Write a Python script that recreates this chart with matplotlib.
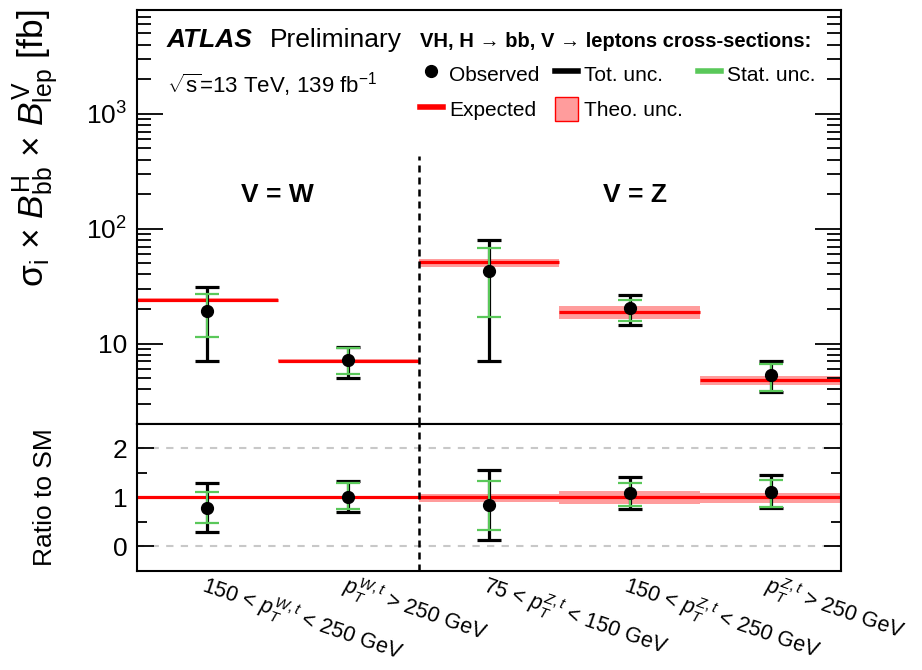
import numpy as np
import matplotlib
matplotlib.use("Agg")
import matplotlib.pyplot as plt
from matplotlib.lines import Line2D
from matplotlib.patches import Patch
from matplotlib.ticker import FixedLocator, FixedFormatter, NullFormatter

plt.rcParams['font.family'] = ['Liberation Sans', 'DejaVu Sans']
plt.rcParams['mathtext.fontset'] = 'custom'
plt.rcParams['mathtext.rm'] = 'Liberation Sans'
plt.rcParams['mathtext.it'] = 'Liberation Sans:italic'
plt.rcParams['mathtext.bf'] = 'Liberation Sans:bold'

# STXS bins: W (150-250, >250), Z (75-150, 150-250, >250)
bin_labels = [r'150 < $p_T^{W,t}$ < 250 GeV',
              r'$p_T^{W,t}$ > 250 GeV',
              r'75 < $p_T^{Z,t}$ < 150 GeV',
              r'150 < $p_T^{Z,t}$ < 250 GeV',
              r'$p_T^{Z,t}$ > 250 GeV']

# cross-sections [fb]
observed = np.array([19.1, 7.2, 42.6, 20.4, 5.35])
tot_hi = np.array([31.3, 9.4, 79.0, 26.7, 7.0])
tot_lo = np.array([7.07, 5.03, 7.0, 14.4, 3.78])
stat_hi = np.array([26.8, 9.2, 68.0, 24.2, 6.6])
stat_lo = np.array([11.4, 5.4, 17.2, 15.6, 3.9])

expected = np.array([24.2, 7.07, 50.9, 18.7, 4.83])
theo_hi = np.array([24.9, 7.28, 55.0, 21.1, 5.27])
theo_lo = np.array([23.5, 6.86, 46.5, 16.4, 4.33])

RED = '#ff0000'
PINK = '#ff9c9c'
GREEN = '#5ac85a'

edges = np.arange(len(observed) + 1)
centers = edges[:-1] + 0.5

fig = plt.figure(figsize=(9.22, 6.70), dpi=100)
ax = fig.add_axes([0.1486, 0.3672, 0.7636, 0.6179])
rax = fig.add_axes([0.1486, 0.1478, 0.7636, 0.2194], sharex=ax)


def draw_panel(a, obs, t_lo, t_hi, s_lo, s_hi, exp, th_lo, th_hi, steps=True):
    a.bar(centers, th_hi - th_lo, bottom=th_lo, width=1.0, color=PINK,
          linewidth=0, zorder=1)
    if steps:
        a.hlines(exp, edges[:-1], edges[1:], color=RED, lw=2.3, zorder=2)
    else:
        a.axhline(1.0, color=RED, lw=2.3, zorder=2)
    a.errorbar(centers, obs, yerr=[obs - t_lo, t_hi - obs], fmt='none',
               ecolor='k', elinewidth=2.3, capsize=8.5, capthick=2.3, zorder=3)
    a.errorbar(centers, obs, yerr=[obs - s_lo, s_hi - obs], fmt='none',
               ecolor=GREEN, elinewidth=1.5, capsize=8.5, capthick=1.6, zorder=4)
    a.plot(centers, obs, 'o', color='k', ms=8.5, zorder=5)


draw_panel(ax, observed, tot_lo, tot_hi, stat_lo, stat_hi,
           expected, theo_lo, theo_hi)

# ratio to the SM expectation
draw_panel(rax, observed / expected, tot_lo / expected, tot_hi / expected,
           stat_lo / expected, stat_hi / expected, np.ones(5),
           theo_lo / expected, theo_hi / expected, steps=False)

# W / Z separator
ax.vlines(2, 2, 430, color='k', lw=1.8, linestyles=(0, (2.8, 2.0)), zorder=6)
rax.axvline(2, color='k', lw=1.8, linestyle=(0, (2.8, 2.0)), zorder=6)
for yv in [0, 2]:
    rax.axhline(yv, color='#c8c8c8', lw=1.5, linestyle=(0, (3.5, 3.5)), zorder=0)

ax.set_yscale('log')
ax.set_ylim(2, 8000)
ax.set_xlim(0, 5)
ax.yaxis.set_major_locator(FixedLocator([10, 100, 1000]))
ax.yaxis.set_major_formatter(FixedFormatter(['10', r'$10^2$', r'$10^3$']))
ax.yaxis.set_minor_formatter(NullFormatter())
ax.tick_params(axis='y', which='major', direction='in', length=19, width=1.3,
               right=True, labelsize=19, pad=7)
ax.tick_params(axis='y', which='minor', direction='in', length=10, width=1.3,
               right=True)
ax.tick_params(axis='x', which='both', length=0, labelbottom=False)

rax.set_ylim(-0.5, 2.5)
rax.yaxis.set_major_locator(FixedLocator([0, 1, 2]))
rax.yaxis.set_minor_locator(FixedLocator([0.5, 1.5]))
rax.tick_params(axis='y', which='major', direction='in', length=12, width=1.3,
                right=True, labelsize=19, pad=7)
rax.tick_params(axis='y', which='minor', direction='in', length=7, width=1.3,
                right=True)
rax.set_xticks(centers)
rax.set_xticklabels(bin_labels, rotation=-19, ha='left', va='top',
                    rotation_mode='anchor', fontsize=15.5)
rax.tick_params(axis='x', length=0, pad=0)

for a in (ax, rax):
    for sp in a.spines.values():
        sp.set_linewidth(1.5)

ax.set_ylabel(r'σ$_{\mathrm{i}}$ × $B^{\mathrm{H}}_{\mathrm{bb}}$ × '
              r'$B^{\mathrm{V}}_{\mathrm{lep}}$ [fb]', fontsize=25.5,
              loc='top')
ax.yaxis.set_label_coords(-0.107, 1.0)
rax.set_ylabel('Ratio to SM', fontsize=19)
rax.yaxis.set_label_coords(-0.114, 0.5)

ax.text(0.0426, 0.9106, 'ATLAS', transform=ax.transAxes, fontsize=19,
        fontweight='bold', fontstyle='italic', va='baseline')
ax.text(0.189, 0.9106, 'Preliminary', transform=ax.transAxes, fontsize=19,
        va='baseline')
ax.text(0.0426, 0.7995, r'$\sqrt{\mathrm{s}}$=13 TeV, 139 fb$^{-1}$',
        transform=ax.transAxes, fontsize=16, va='baseline')

xt = ax.get_xaxis_transform()
ax.text(1.0, 0.553, 'V = W', transform=xt, fontsize=19, fontweight='bold',
        ha='center', va='center')
ax.text(3.54, 0.553, 'V = Z', transform=xt, fontsize=19, fontweight='bold',
        ha='center', va='center')

handles = [Line2D([], [], marker='o', color='k', ls='none', ms=8.5),
           Line2D([], [], color=RED, lw=4),
           Line2D([], [], color='k', lw=4),
           Patch(facecolor=PINK, edgecolor=RED, lw=1),
           Line2D([], [], color=GREEN, lw=4)]
labels = ['Observed', 'Expected', 'Tot. unc.', 'Theo. unc.', 'Stat. unc.']
ax.legend(handles, labels, ncol=3, loc='upper left',
          bbox_to_anchor=(0.402, 0.948), frameon=False,
          title='VH, H → bb, V → leptons cross-sections:',
          title_fontproperties={'weight': 'bold', 'size': 14.5,
                                'family': ['Liberation Sans', 'DejaVu Sans']},
          fontsize=15, handlelength=1.1, handleheight=1.38,
          handletextpad=0.28, columnspacing=0.75, labelspacing=0.55,
          alignment='left', borderpad=0, borderaxespad=0)

fig.savefig('out.png', dpi=100)
